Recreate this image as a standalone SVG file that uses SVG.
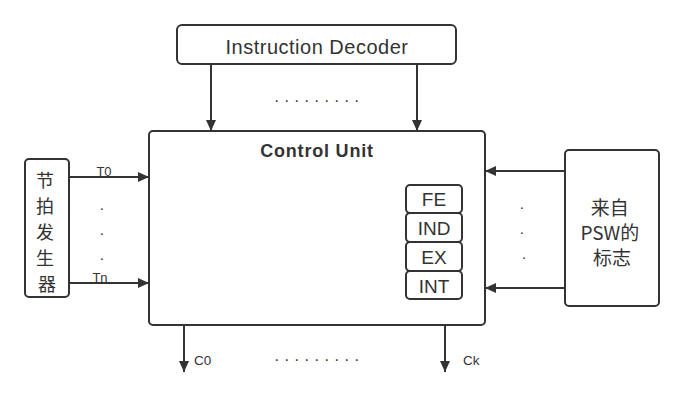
<svg xmlns="http://www.w3.org/2000/svg" width="684" height="403" viewBox="0 0 684 403">
<style>
.box{fill:#fff;stroke:#333;stroke-width:2}
.ln{stroke:#333;stroke-width:2;fill:none}
.t{font-family:"Liberation Sans","Noto Sans CJK SC",sans-serif;fill:#333}
.cjk{font-family:"Noto Sans CJK SC","Liberation Sans",sans-serif;fill:#333}
.dots{font-family:"Liberation Sans",sans-serif;fill:#333;font-size:16px;letter-spacing:5.55px}
.vd{font-family:"Liberation Sans",sans-serif;fill:#333;font-size:15px}
</style>
<defs>
<marker id="arr" markerUnits="userSpaceOnUse" markerWidth="12" markerHeight="12" refX="11" refY="6" orient="auto">
<path d="M0,1 L11,6 L0,11 Z" fill="#333"/>
</marker>
</defs>
<rect width="684" height="403" fill="#fff"/>
<g id="decoder">
<rect class="box" x="177" y="25" width="279" height="39" rx="5"/>
<text class="t" x="317" y="54" font-size="20" letter-spacing="0.5" text-anchor="middle">Instruction Decoder</text>
</g>
<g id="control-unit">
<rect class="box" x="149" y="131" width="336" height="194" rx="4"/>
<text class="t" x="317" y="157" font-size="18" font-weight="bold" letter-spacing="0.8" text-anchor="middle">Control Unit</text>
</g>
<g id="fe">
<rect class="box" x="406" y="185" width="56" height="28" rx="4"/>
<text class="t" x="434" y="206" font-size="19" text-anchor="middle">FE</text>
</g>
<g id="ind">
<rect class="box" x="406" y="213" width="56" height="29" rx="4"/>
<text class="t" x="434" y="235" font-size="19" text-anchor="middle">IND</text>
</g>
<g id="ex">
<rect class="box" x="406" y="242" width="56" height="29" rx="4"/>
<text class="t" x="434" y="264" font-size="19" text-anchor="middle">EX</text>
</g>
<g id="int">
<rect class="box" x="406" y="271" width="56" height="28" rx="4"/>
<text class="t" x="434" y="293" font-size="19" text-anchor="middle">INT</text>
</g>
<g id="clock">
<rect class="box" x="25" y="159" width="44" height="138" rx="4"/>
<text class="cjk" font-size="18" text-anchor="middle">
<tspan x="47" y="187">节</tspan>
<tspan x="47" y="213">拍</tspan>
<tspan x="47" y="239">发</tspan>
<tspan x="47" y="265">生</tspan>
<tspan x="47" y="291">器</tspan>
</text>
</g>
<g id="psw">
<rect class="box" x="565" y="150" width="94" height="156" rx="4"/>
<text class="cjk" font-size="19" text-anchor="middle">
<tspan x="612" y="215">来自</tspan>
<tspan x="612" y="240">PSW的</tspan>
<tspan x="612" y="265">标志</tspan>
</text>
</g>
<g id="connectors">
<line class="ln" x1="211" y1="64" x2="211" y2="131" marker-end="url(#arr)"/>
<line class="ln" x1="417" y1="64" x2="417" y2="131" marker-end="url(#arr)"/>
<line class="ln" x1="69" y1="177" x2="149" y2="177" marker-end="url(#arr)"/>
<line class="ln" x1="69" y1="283" x2="149" y2="283" marker-end="url(#arr)"/>
<line class="ln" x1="565" y1="171" x2="485" y2="171" marker-end="url(#arr)"/>
<line class="ln" x1="565" y1="288" x2="485" y2="288" marker-end="url(#arr)"/>
<line class="ln" x1="184" y1="326" x2="184" y2="372" marker-end="url(#arr)"/>
<line class="ln" x1="445" y1="326" x2="445" y2="372" marker-end="url(#arr)"/>
</g>
<g id="labels">
<text class="t" x="104" y="175.5" font-size="13" text-anchor="middle">T0</text>
<text class="t" x="100" y="281.5" font-size="13" text-anchor="middle">Tn</text>
<text class="t" x="194" y="365" font-size="13.5">C0</text>
<text class="t" x="463" y="365" font-size="13.5">Ck</text>
<text class="dots" x="274.5" y="101.5">.........</text>
<text class="dots" x="274.5" y="361">.........</text>
<text class="vd" text-anchor="middle">
<tspan x="104" y="209.5">.</tspan>
<tspan x="104" y="234.5">.</tspan>
<tspan x="104" y="259.5">.</tspan>
<tspan x="524" y="208.5">.</tspan>
<tspan x="524" y="233.5">.</tspan>
<tspan x="524" y="259">.</tspan>
</text>
</g>
</svg>
